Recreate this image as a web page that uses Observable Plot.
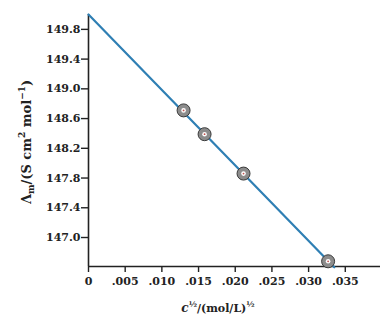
<!DOCTYPE html>
<html>
<head>
<meta charset="utf-8">
<script src="https://cdn.jsdelivr.net/npm/d3@7"></script>
<script src="https://cdn.jsdelivr.net/npm/@observablehq/plot@0.6"></script>
<style>
  html, body { margin: 0; padding: 0; background: #fff; }
  svg text { font-family: "DejaVu Serif", serif; }
</style>
</head>
<body>
<div id="chart"></div>
<script>
const sqrtC = [0.01296, 0.01582, 0.02113, 0.03266];
const molarCond = [148.71, 148.39, 147.86, 146.68];
const fitX = [0, 0.0335];
const fitY = [150.0, 146.60];
const xTicks = [0, 0.005, 0.010, 0.015, 0.020, 0.025, 0.030, 0.035];
const yTicks = [147.0, 147.4, 147.8, 148.2, 148.6, 149.0, 149.4, 149.8];

const xDomain = [0, 0.0398];
const yDomain = [146.61, 150.0];

const points = sqrtC.map((x, i) => ({x, y: molarCond[i]}));
const fit = fitX.map((x, i) => ({x, y: fitY[i]}));

const chart = Plot.plot({
  width: 386,
  height: 331,
  marginLeft: 88,
  marginRight: 6,
  marginTop: 14,
  marginBottom: 65,
  style: {fontFamily: "DejaVu Serif, serif", fontSize: "11px", fontWeight: "bold", color: "#222", background: "#fff"},
  x: {domain: xDomain, ticks: xTicks, tickFormat: d => d === 0 ? "0" : d.toFixed(3).replace(/^0/, ""), label: null, tickSize: 6, tickPadding: 5},
  y: {domain: yDomain, ticks: yTicks, tickFormat: d => d.toFixed(1), label: null, tickSize: 7, tickPadding: 1},
  marks: [
    Plot.ruleX([0], {stroke: "#222", strokeWidth: 1.6}),
    Plot.ruleY([yDomain[0]], {stroke: "#222", strokeWidth: 1.6}),
    Plot.line(fit, {x: "x", y: "y", stroke: "#2f7fb4", strokeWidth: 2.2}),
    Plot.dot(points, {x: "x", y: "y", r: 6.5, fill: "#8c8c8c", stroke: "#3a3a3a", strokeWidth: 1}),
    Plot.dot(points, {x: "x", y: "y", r: 2.3, fill: "#fff", stroke: "none"}),
    Plot.dot(points, {x: "x", y: "y", r: 0.9, fill: "#c0504d", stroke: "none"})
  ]
});

const svg = d3.select(chart);
svg.selectAll("[aria-label='x-axis tick'] path, [aria-label='y-axis tick'] path").attr("stroke-width", 1.4);

// x-axis label
const xl = svg.append("text")
  .attr("x", 218).attr("y", 312)
  .attr("text-anchor", "middle")
  .attr("font-size", 11).attr("font-weight", "bold").attr("fill", "#222");
xl.append("tspan").attr("font-style", "italic").attr("font-size", 12).text("c");
xl.append("tspan").attr("dy", -5).attr("font-size", 8).text("½");
xl.append("tspan").attr("dy", 5).text("/(mol/L)");
xl.append("tspan").attr("dy", -5).attr("font-size", 8).text("½");

// y-axis label
const yl = svg.append("text")
  .attr("transform", "translate(31,142) rotate(-90)")
  .attr("text-anchor", "middle")
  .attr("font-size", 13).attr("font-weight", "bold").attr("fill", "#222");
yl.append("tspan").text("Λ");
yl.append("tspan").attr("dy", 3).attr("font-size", 9).text("m");
yl.append("tspan").attr("dy", -3).text("/(S cm");
yl.append("tspan").attr("dy", -6).attr("font-size", 9).text("2");
yl.append("tspan").attr("dy", 6).text(" mol");
yl.append("tspan").attr("dy", -6).attr("font-size", 9).text("−1");
yl.append("tspan").attr("dy", 6).text(")");

document.getElementById("chart").appendChild(chart);
</script>
</body>
</html>
